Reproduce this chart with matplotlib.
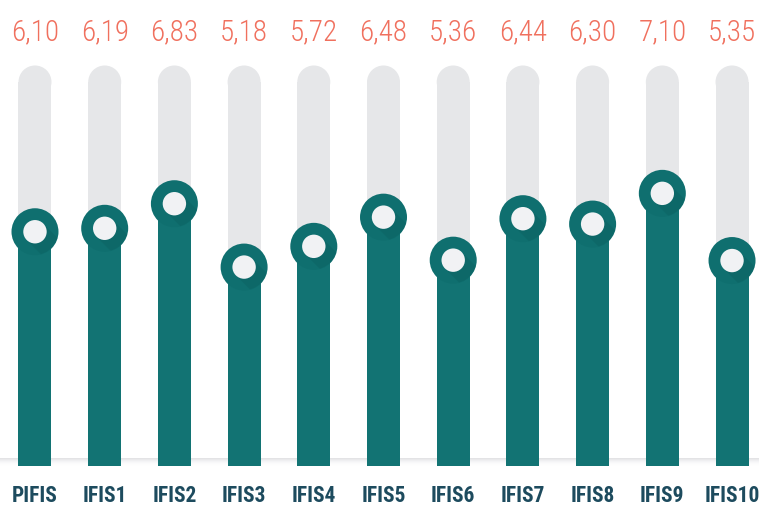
import matplotlib
matplotlib.use("Agg")
import matplotlib.pyplot as plt
import numpy as np
from matplotlib.patches import Circle, Polygon
from matplotlib.transforms import ScaledTranslation
from matplotlib.colors import LinearSegmentedColormap
from matplotlib import font_manager

categories = ["PIFIS", "IFIS1", "IFIS2", "IFIS3", "IFIS4", "IFIS5", "IFIS6", "IFIS7", "IFIS8", "IFIS9", "IFIS10"]
values = [6.10, 6.19, 6.83, 5.18, 5.72, 6.48, 5.36, 6.44, 6.30, 7.10, 5.35]
value_labels = ["6,10", "6,19", "6,83", "5,18", "5,72", "6,48", "5,36", "6,44", "6,30", "7,10", "5,35"]
track_max = 10

avail = {f.name for f in font_manager.fontManager.ttflist}
narrow = [f for f in ["Roboto Condensed", "Liberation Sans Narrow", "Open Sans Condensed", "DejaVu Sans Condensed"] if f in avail]
fam = narrow + ["DejaVu Sans"]

TEAL = "#127373"
RING = "#0f6f6f"
GRAY = "#e6e7e9"
INNER = "#f1f2f4"
SALMON = "#f0705e"
NAVY = "#1d4b5e"

fig = plt.figure(figsize=(7.59, 5.07), dpi=100)
ax = fig.add_axes([0, 0, 1, 1])
ax.set_xlim(-0.502, 10.387)
ax.set_ylim(-1.068, 12.135)
ax.axis("off")

x = np.arange(len(categories))
w = 0.4735

# baseline shadow
grad = np.linspace(0, 1, 50).reshape(-1, 1)
cm = LinearSegmentedColormap.from_list("sh", [(1, 1, 1, 0), (0.88, 0.88, 0.89, 1)])
ax.imshow(grad, extent=(-0.502, 10.387, 0, 0.2), aspect="auto", cmap=cm, origin="lower", zorder=0.5)

# gray tracks
ax.bar(x, [track_max] * len(x), width=w, bottom=0, color=GRAY, zorder=1, linewidth=0)
for xi in x:
    tr = fig.dpi_scale_trans + ScaledTranslation(xi, track_max, ax.transData)
    ax.add_patch(Circle((0, 0), 0.165, transform=tr, color=GRAY, zorder=1, lw=0))

# teal bars
ax.bar(x, values, width=w, bottom=0, color=TEAL, zorder=2, linewidth=0)

# rings
R_out, R_in = 0.235, 0.117
for xi, v in zip(x, values):
    tr = fig.dpi_scale_trans + ScaledTranslation(xi, v, ax.transData)
    outer = Circle((0, 0), R_out, transform=tr, color=RING, zorder=3, lw=0)
    ax.add_patch(outer)
    d = np.array([1, -1]) / np.sqrt(2)
    p = np.array([1, 1]) / np.sqrt(2)
    pts = [p * R_in, p * R_in + d * 1.0, -p * R_in + d * 1.0, -p * R_in]
    sh = Polygon(pts, closed=True, transform=tr, color="#0a5a5a", alpha=0.3, zorder=3.5, lw=0)
    ax.add_patch(sh)
    sh.set_clip_path(Circle((0, 0), R_out * 0.985, transform=tr))
    ax.add_patch(Circle((0, 0), R_in, transform=tr, color=INNER, zorder=4, lw=0))

for xi, lab in zip(x, value_labels):
    ax.text(xi, 11.30, lab, ha="center", va="center", color=SALMON, fontsize=21,
            family=fam, fontweight="light")

for xi, c in zip(x, categories):
    ax.text(xi, -0.78, c, ha="center", va="center", color=NAVY, fontsize=15.5,
            family=fam, fontweight="bold")

fig.savefig("out.png", dpi=100)
